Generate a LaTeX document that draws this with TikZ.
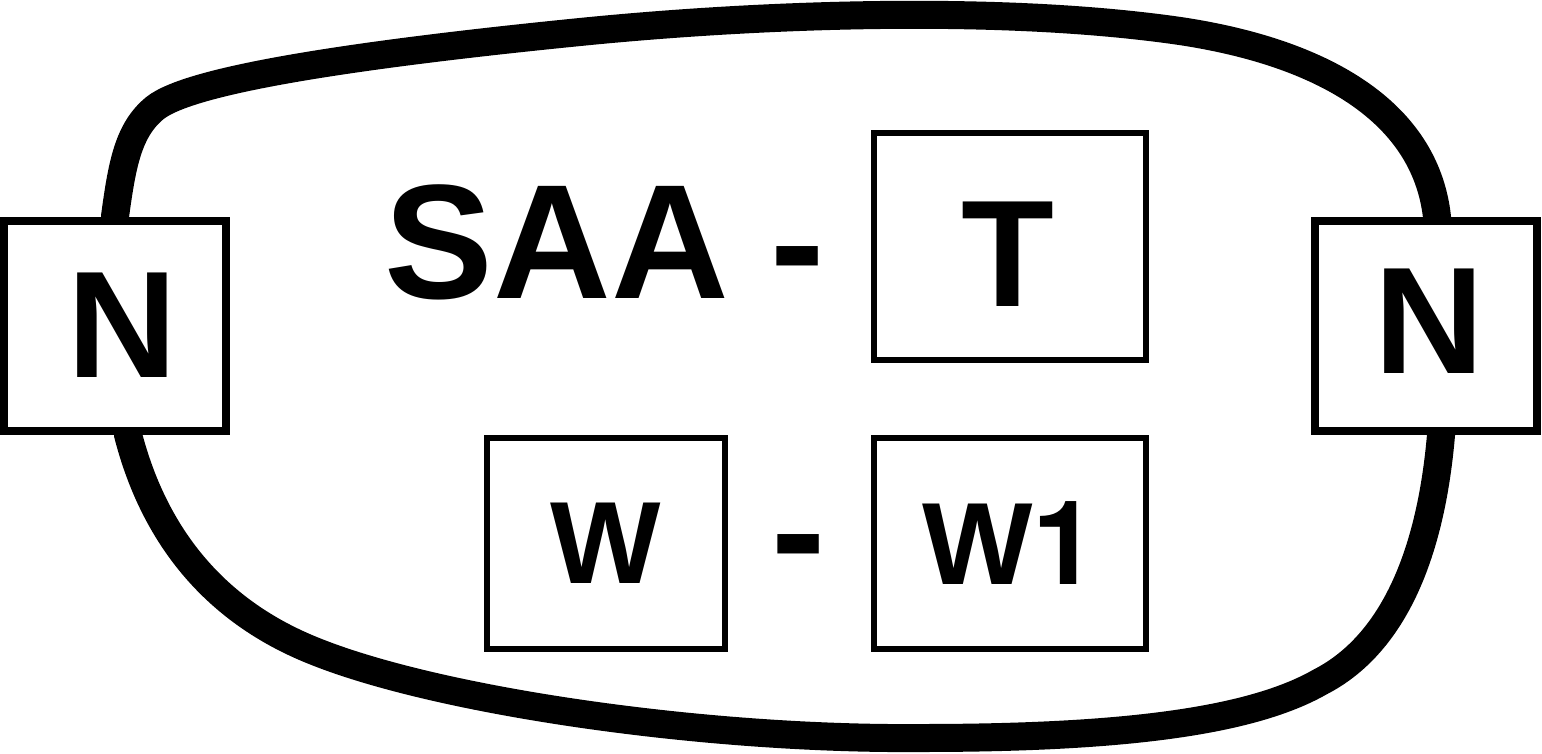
\documentclass[tikz,border=0pt]{standalone}
\usepackage{fontspec}
\setmainfont{Liberation Sans}
\newfontfamily\herosfont{TeX Gyre Heros}
\pgfdeclarelayer{background}
\pgfsetlayers{background,main}
\begin{document}
\begin{tikzpicture}[x=1pt,y=-1pt,
  nbox/.style={draw, fill=white, line width=8pt, inner sep=0pt,
    minimum width=222pt, minimum height=210pt,
    font=\bfseries\fontsize{152}{152}\selectfont},
  tbox/.style={draw, fill=white, line width=6.5pt, inner sep=0pt,
    font=\bfseries\fontsize{152}{152}\selectfont},
  wbox/.style={draw, fill=white, line width=6.5pt, inner sep=0pt,
    minimum height=211pt,
    font=\bfseries\fontsize{117}{117}\selectfont},
  bigtext/.style={inner sep=0pt, anchor=base,
    font=\bfseries\fontsize{163}{163}\selectfont},
  loopline/.style={line width=28pt, line cap=butt}]
\useasboundingbox (0,0) rectangle (1542,753);

\node[nbox] (nl) at (115,325.5) {\hspace*{14pt}N};
\node[nbox, text depth=9pt] (nr) at (1426,326) {\hspace*{6pt}N};
\node[tbox, minimum width=272pt, minimum height=227pt, text height=119pt, text depth=0pt] (t) at (1010,246.5) {\hspace*{-5pt}T};
\node[wbox, minimum width=238pt] (w) at (606,543.5) {W};
\node[wbox, minimum width=272pt] (w1) at (1010,543.5) {W\herosfont 1};
\node[bigtext] (saa) at (557,298) {SAA};
\node[bigtext] (d1) at (797.5,298) {-};
\node[bigtext] (d2) at (799,586) {-};

\begin{pgfonlayer}{background}
\draw[loopline] ([yshift=-20pt]nl.north) -- (nl.north)
  .. controls (122,165) and (128,130) .. (155,108)
  .. controls (190,80) and (350,55) .. (580,32)
  .. controls (760,14) and (1000,5) .. (1180,31)
  .. controls (1320,52) and (1425,110) .. ([xshift=11pt]nr.north)
  -- ([xshift=12pt,yshift=-20pt]nr.north);
\draw[loopline] ([xshift=12pt,yshift=20pt]nl.south) -- ([xshift=13pt]nl.south)
  .. controls (150,520) and (200,600) .. (300,645)
  .. controls (420,699) and (700,740) .. (920,738)
  .. controls (1120,738) and (1250,722) .. (1320,682)
  .. controls (1400,641) and (1432,540) .. ([xshift=15pt]nr.south)
  -- ([xshift=14pt,yshift=20pt]nr.south);
\end{pgfonlayer}
\end{tikzpicture}
\end{document}
